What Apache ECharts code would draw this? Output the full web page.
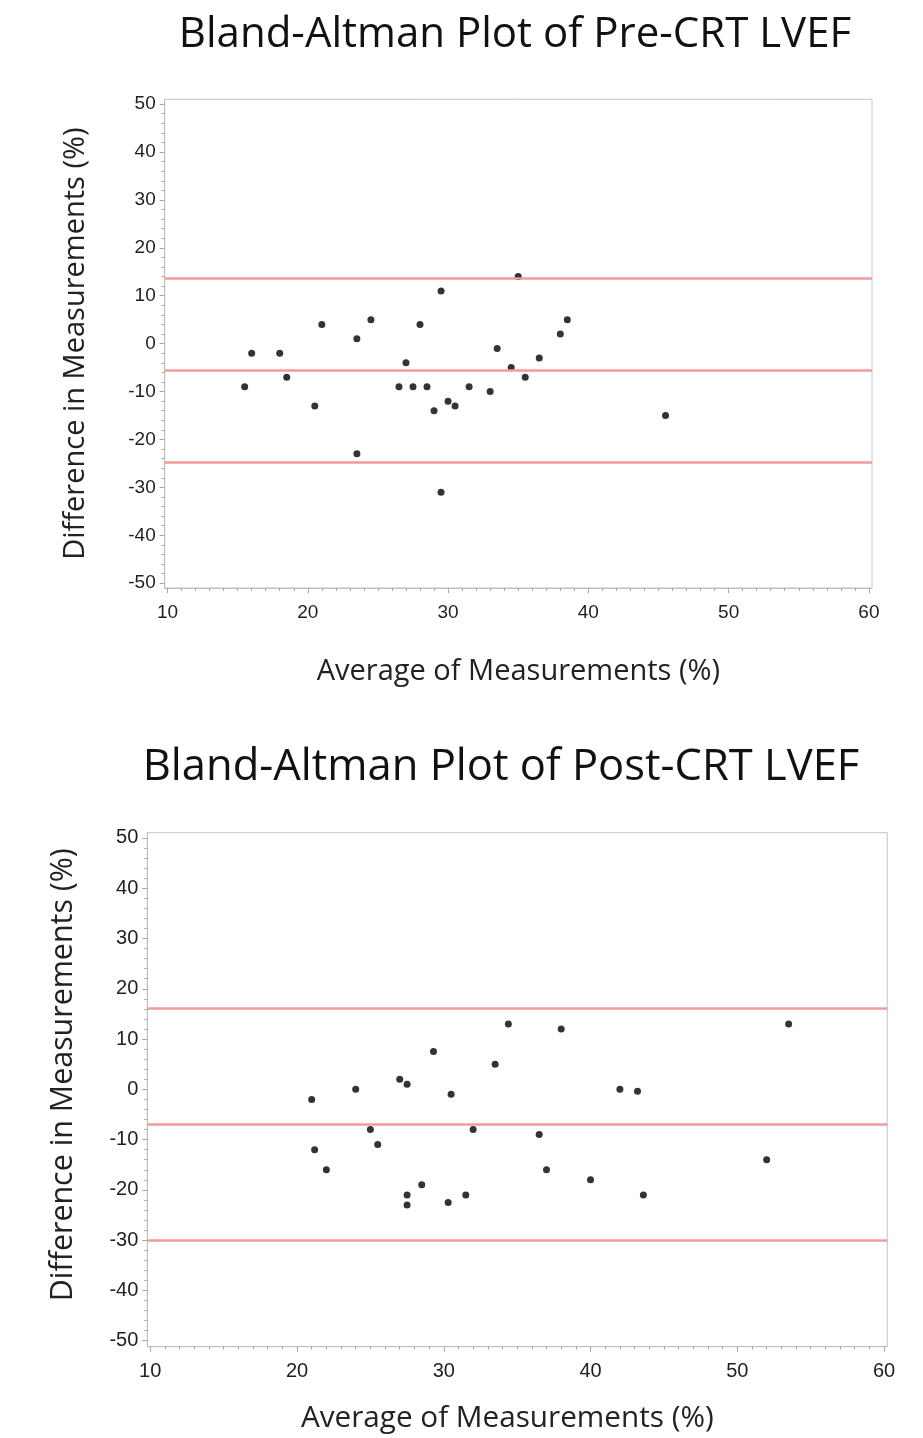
<!DOCTYPE html>
<html>
<head>
<meta charset="utf-8">
<title>Bland-Altman Plots</title>
<script src="https://cdn.jsdelivr.net/npm/echarts@6/dist/echarts.min.js"></script>
<style>
  html, body { margin: 0; padding: 0; background: #fff; }
  #chart { width: 923px; height: 1438px; }
</style>
</head>
<body>
<div id="chart"></div>
<script>
// Pre-CRT LVEF: average (x) and difference (y) of the two measurements
const preAvg = [15.5, 16, 18, 18.5, 20.5, 21, 23.5, 23.5, 24.5, 26.5, 27, 27.5, 28, 28.5, 29,
  29.5, 29.5, 30, 30.5, 31.5, 33, 33.5, 34.5, 35, 35.5, 36.5, 38, 38.5, 45.5];
const preDiff = [-9, -2, -2, -7, -13, 4, 1, -23, 5, -9, -4, -9, 4, -9, -14,
  11, -31, -12, -13, -9, -10, -1, -5, 14, -7, -3, 2, 5, -15];
// upper limit, mean difference, lower limit
const preLimits = [13.65, -5.55, -24.85];

// Post-CRT LVEF
const postAvg = [21, 21.2, 22, 24, 25, 25.5, 27, 27.5, 27.5, 27.5, 28.5, 29.3, 30.3, 30.5,
  31.5, 32, 33.5, 34.4, 36.5, 37, 38, 40, 42, 43.2, 43.6, 52, 53.5];
const postDiff = [-2, -12, -16, 0, -8, -11, 2, 1, -21, -23, -19, 7.5, -22.5, -1,
  -21, -8, 5, 13, -9, -16, 12, -18, 0, -0.4, -21, -14, 13];
const postLimits = [16.05, -6.95, -30.05];

// tick labels
const xTicks = [10, 20, 30, 40, 50, 60];
const yTicks = [-50, -40, -30, -20, -10, 0, 10, 20, 30, 40, 50];

// minor ticks: every 1 on x, every 2 on y
const xMinor = [];
for (let v = 11; v < 60; v++) if (v % 10 !== 0) xMinor.push(v);
const yMinor = [];
for (let v = -48; v < 50; v += 2) if (v % 10 !== 0) yMinor.push(v);

const axisGray = '#bdbdbd';
const tickGray = '#a6a6a6';
const limitRed = '#f39a9a';

function xAxes(gridIndex, fontSize, nameSize, nameGap, namePad) {
  const base = {
    gridIndex: gridIndex,
    type: 'value',
    position: 'bottom',
    min: 9.8,
    max: 60.22,
    splitLine: { show: false }
  };
  return [
    Object.assign({}, base, {
      name: 'Average of Measurements (%)',
      nameLocation: 'middle',
      nameGap: nameGap,
      nameTextStyle: { fontFamily: 'Open Sans', fontSize: nameSize, color: '#222', padding: namePad },
      axisLine: { show: true, onZero: false, lineStyle: { color: axisGray, width: 1 } },
      axisTick: { show: true, customValues: xTicks, length: 5, lineStyle: { color: tickGray } },
      axisLabel: {
        customValues: xTicks, margin: 15,
        fontFamily: 'Liberation Sans', fontSize: fontSize, color: '#1f1f1f'
      }
    }),
    Object.assign({}, base, {
      axisLine: { show: false, onZero: false },
      axisTick: { show: true, customValues: xMinor, length: 3, lineStyle: { color: tickGray } },
      axisLabel: { show: false }
    })
  ];
}

function yAxes(gridIndex, fontSize, nameSize, min, max, nameGap, namePad) {
  const base = {
    gridIndex: gridIndex,
    type: 'value',
    position: 'left',
    min: min,
    max: max,
    splitLine: { show: false }
  };
  return [
    Object.assign({}, base, {
      name: 'Difference in Measurements (%)',
      nameLocation: 'middle',
      nameGap: nameGap,
      nameTextStyle: { fontFamily: 'Open Sans', fontSize: nameSize, color: '#222', padding: namePad },
      axisLine: { show: true, onZero: false, lineStyle: { color: axisGray, width: 1 } },
      axisTick: { show: true, customValues: yTicks, length: 5, lineStyle: { color: tickGray } },
      axisLabel: {
        customValues: yTicks, margin: 9,
        fontFamily: 'Liberation Sans', fontSize: fontSize, color: '#1f1f1f'
      }
    }),
    Object.assign({}, base, {
      axisLine: { show: false, onZero: false },
      axisTick: { show: true, customValues: yMinor, length: 3, lineStyle: { color: tickGray } },
      axisLabel: { show: false }
    })
  ];
}

function baSeries(name, avg, diff, limits, xi, yi) {
  return {
    name: name,
    type: 'scatter',
    xAxisIndex: xi,
    yAxisIndex: yi,
    symbol: 'circle',
    symbolSize: 7,
    itemStyle: { color: '#000' },
    data: avg.map((a, i) => [a, diff[i]]),
    markLine: {
      silent: true,
      symbol: ['none', 'none'],
      label: { show: false },
      lineStyle: { color: limitRed, width: 2.5, type: 'solid' },
      data: limits.map(v => ({ yAxis: v }))
    }
  };
}

const chart = echarts.init(document.getElementById('chart'), null, { renderer: 'canvas' });

const option = {
  backgroundColor: '#fff',
  animation: false,
  title: [
    {
      text: 'Bland-Altman Plot of Pre-CRT LVEF',
      left: 515, top: 14, textAlign: 'center', padding: 0,
      textStyle: { fontFamily: 'Open Sans', fontSize: 42, fontWeight: 'normal', color: '#111' }
    },
    {
      text: 'Bland-Altman Plot of Post-CRT LVEF',
      left: 501, top: 746, textAlign: 'center', padding: 0,
      textStyle: { fontFamily: 'Open Sans', fontSize: 43.5, fontWeight: 'normal', color: '#111' }
    }
  ],
  grid: [
    { left: 164.7, top: 99.3, width: 707.3, height: 488.7, show: true, borderColor: '#c6c6c6', borderWidth: 1, containLabel: false },
    { left: 147.3, top: 832.7, width: 740, height: 514, show: true, borderColor: '#c6c6c6', borderWidth: 1, containLabel: false }
  ],
  xAxis: xAxes(0, 19, 29, 69.5, [0, 0, 0, 0]).concat(xAxes(1, 20, 29.7, 57, [0, 20, 0, 0])),
  yAxis: yAxes(0, 19, 29, -51, 51, 74, [0, 0, 0, 0]).concat(yAxes(1, 20, 30.4, -51.2, 51.05, 69, [0, 0, 0, 30])),
  series: [
    baSeries('Pre-CRT LVEF', preAvg, preDiff, preLimits, 0, 0),
    baSeries('Post-CRT LVEF', postAvg, postDiff, postLimits, 2, 2)
  ]
};

chart.setOption(option);
window.addEventListener('resize', () => chart.resize());
</script>
</body>
</html>
